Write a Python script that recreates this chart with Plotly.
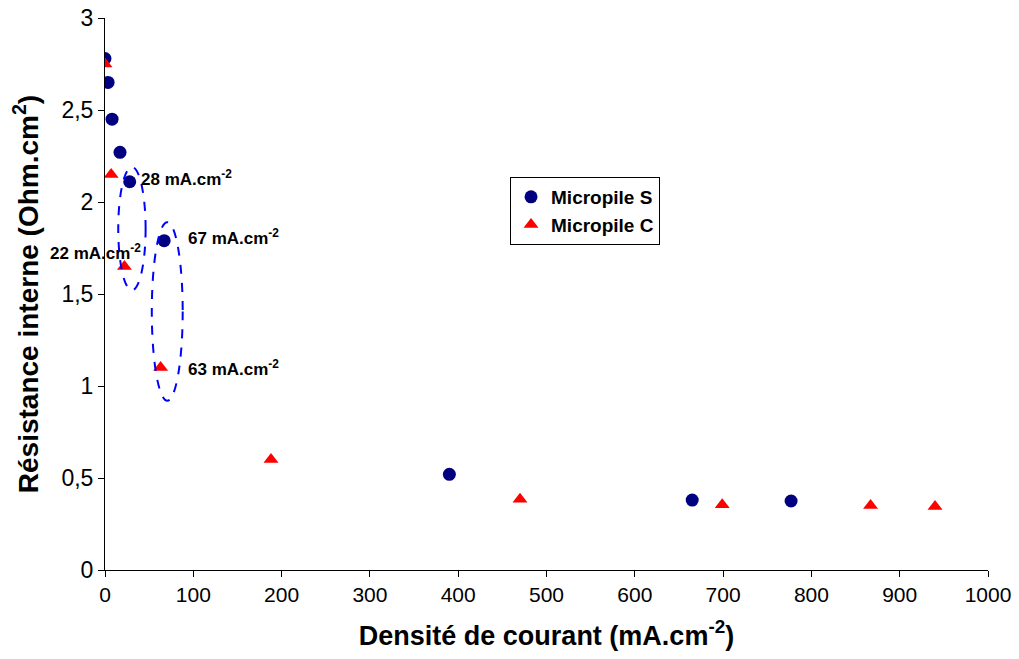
import plotly.graph_objects as go

s_x = [0, 3.5, 8, 17, 28, 67, 390, 665, 777]
s_y = [2.78, 2.65, 2.45, 2.27, 2.11, 1.79, 0.52, 0.38, 0.375]
c_x = [0, 7, 22, 63, 188, 470, 699, 867, 940]
c_y = [2.75, 2.15, 1.65, 1.10, 0.60, 0.385, 0.355, 0.35, 0.345]

ann_text = ["28 mA.cm<sup>-2</sup>", "67 mA.cm<sup>-2</sup>", "22 mA.cm<sup>-2</sup>", "63 mA.cm<sup>-2</sup>"]
ann_x = [39, 92, 43, 92]
ann_y = [2.13, 1.81, 1.73, 1.10]
ann_anchor = ["left", "left", "right", "left"]

x_ticks = list(range(0, 1001, 100))
y_ticks = [0, 0.5, 1, 1.5, 2, 2.5, 3]

fig = go.Figure()
fig.add_trace(go.Scatter(x=s_x, y=s_y, mode="markers", name="Micropile S",
                         marker=dict(symbol="circle", size=13, color="#000080")))
fig.add_trace(go.Scatter(x=c_x, y=c_y, mode="markers", name="Micropile C",
                         marker=dict(symbol="triangle-up", size=13, color="#FF0000")))

for t, x, y, a in zip(ann_text, ann_x, ann_y, ann_anchor):
    fig.add_annotation(x=x, y=y, text=t, showarrow=False, xanchor=a, yanchor="middle",
                       font=dict(family="Liberation Sans, Arial", size=17, color="black", weight="bold"))

fig.add_shape(type="circle", xref="x", yref="y", x0=15, x1=46, y0=1.52, y1=2.19,
              line=dict(color="#0000FF", width=2, dash="dash"))
fig.add_shape(type="circle", xref="x", yref="y", x0=53, x1=88, y0=0.92, y1=1.89,
              line=dict(color="#0000FF", width=2, dash="dash"))

fig.update_layout(
    width=1019, height=659,
    margin=dict(l=97, r=39, t=10, b=97),
    paper_bgcolor="white", plot_bgcolor="white",
    separators=", ",
    font=dict(family="Liberation Sans, Arial", color="black"),
    legend=dict(x=0.4587, y=0.712, xanchor="left", yanchor="top",
                bordercolor="black", borderwidth=1, bgcolor="white",
                font=dict(size=19, weight="bold"), itemwidth=30, tracegroupgap=0),
    xaxis=dict(range=[0, 1000], tickvals=x_ticks, showgrid=False, zeroline=False,
               showline=True, linecolor="black", linewidth=1, ticks="outside",
               ticklen=6, tickcolor="black", tickfont=dict(size=21),
               ticklabeloverflow="allow", automargin=False,
               title=dict(text="Densité de courant (mA.cm<sup>-2</sup>)",
                          font=dict(size=27, weight="bold"), standoff=20)),
    yaxis=dict(range=[0, 3], tickvals=y_ticks, showgrid=False, zeroline=False,
               showline=True, linecolor="black", linewidth=1, ticks="outside",
               ticklen=6, tickcolor="black", tickfont=dict(size=23),
               ticklabeloverflow="allow", automargin=False,
               title=dict(text="Résistance interne (Ohm.cm<sup>2</sup>)",
                          font=dict(size=28, weight="bold"), standoff=14)),
)

fig.write_html("out.html")
